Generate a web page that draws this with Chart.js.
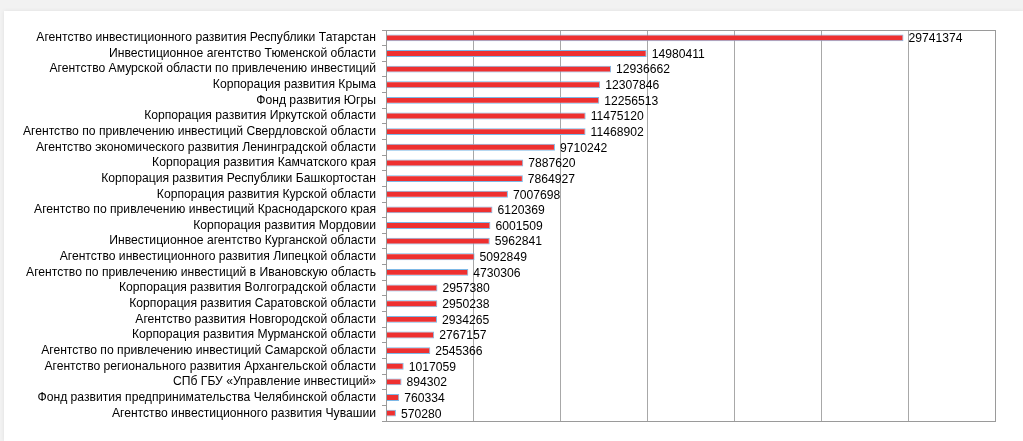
<!DOCTYPE html>
<html>
<head>
<meta charset="utf-8">
<script src="https://cdn.jsdelivr.net/npm/chart.js@4/dist/chart.umd.min.js"></script>
<style>
  html, body { margin: 0; padding: 0; width: 1023px; height: 441px; overflow: hidden; background: #f2f2f2; }
  #card { position: absolute; left: 4px; top: 11px; right: 0; bottom: 0; background: #ffffff; box-shadow: 0 0 4px rgba(0,0,0,0.08); }
  #c { position: absolute; left: 0; top: 0; }
</style>
</head>
<body>
<div id="card"></div>
<canvas id="c" width="1023" height="441"></canvas>
<script>
const categories = [
  "Агентство инвестиционного развития Республики Татарстан",
  "Инвестиционное агентство Тюменской области",
  "Агентство Амурской области по привлечению инвестиций",
  "Корпорация развития Крыма",
  "Фонд развития Югры",
  "Корпорация развития Иркутской области",
  "Агентство по привлечению инвестиций Свердловской области",
  "Агентство экономического развития Ленинградской области",
  "Корпорация развития Камчатского края",
  "Корпорация развития Республики Башкортостан",
  "Корпорация развития Курской области",
  "Агентство по привлечению инвестиций Краснодарского края",
  "Корпорация развития Мордовии",
  "Инвестиционное агентство Курганской области",
  "Агентство инвестиционного развития Липецкой области",
  "Агентство по привлечению инвестиций в Ивановскую область",
  "Корпорация развития Волгоградской области",
  "Корпорация развития Саратовской области",
  "Агентство развития Новгородской области",
  "Корпорация развития Мурманской области",
  "Агентство по привлечению инвестиций Самарской области",
  "Агентство регионального развития Архангельской области",
  "СПб ГБУ «Управление инвестиций»",
  "Фонд развития предпринимательства Челябинской области",
  "Агентство инвестиционного развития Чувашии"
];
const values = [
  29741374, 14980411, 12936662, 12307846, 12256513, 11475120, 11468902, 9710242,
  7887620, 7864927, 7007698, 6120369, 6001509, 5962841, 5092849, 4730306,
  2957380, 2950238, 2934265, 2767157, 2545366, 1017059, 894302, 760334, 570280
];
const axisMin = 0;
const axisMax = 35000000;
const axisStep = 5000000;

const FONT = "'Liberation Sans', Arial, sans-serif";

const valueLabels = {
  id: 'valueLabels',
  afterDatasetsDraw(chart) {
    const ctx = chart.ctx;
    const meta = chart.getDatasetMeta(0);
    ctx.save();
    ctx.font = "12.15px " + FONT;
    ctx.fillStyle = '#000';
    ctx.textAlign = 'left';
    ctx.textBaseline = 'middle';
    meta.data.forEach((bar, i) => {
      ctx.fillText(String(chart.data.datasets[0].data[i]), bar.x + 5, bar.y + 1);
    });
    ctx.restore();
  }
};

const frame = {
  id: 'frame',
  afterDraw(chart) {
    const a = chart.chartArea;
    const ctx = chart.ctx;
    ctx.save();
    ctx.strokeStyle = '#9a9a9a';
    ctx.lineWidth = 1;
    ctx.strokeRect(Math.round(a.left) + 0.5, Math.round(a.top) + 0.5, Math.round(a.right - a.left), Math.round(a.bottom - a.top));
    ctx.restore();
  }
};

new Chart(document.getElementById('c'), {
  type: 'bar',
  data: {
    labels: categories,
    datasets: [{
      data: values,
      backgroundColor: '#ee3030',
      borderColor: '#7db8e6',
      borderWidth: 1,
      barPercentage: 0.44,
      categoryPercentage: 1.0
    }]
  },
  options: {
    indexAxis: 'y',
    responsive: false,
    animation: false,
    devicePixelRatio: 1,
    layout: { padding: { top: 30, right: 28, bottom: 20, left: 0 } },
    plugins: { legend: { display: false }, tooltip: { enabled: false } },
    scales: {
      x: {
        min: axisMin, max: axisMax,
        ticks: { display: false, stepSize: axisStep },
        grid: { color: '#a8a8a8', drawTicks: false, lineWidth: 1 },
        border: { color: '#9a9a9a' },
        afterFit(s) { s.height = 0; }
      },
      y: {
        ticks: { color: '#000', font: { family: FONT, size: 12.15 }, padding: 6, autoSkip: false },
        grid: { drawOnChartArea: false, drawTicks: true, tickLength: 4, color: '#9a9a9a', offset: true },
        border: { color: '#9a9a9a' },
        afterFit(s) { s.width = 386; }
      }
    }
  },
  plugins: [valueLabels, frame]
});
</script>
</body>
</html>
